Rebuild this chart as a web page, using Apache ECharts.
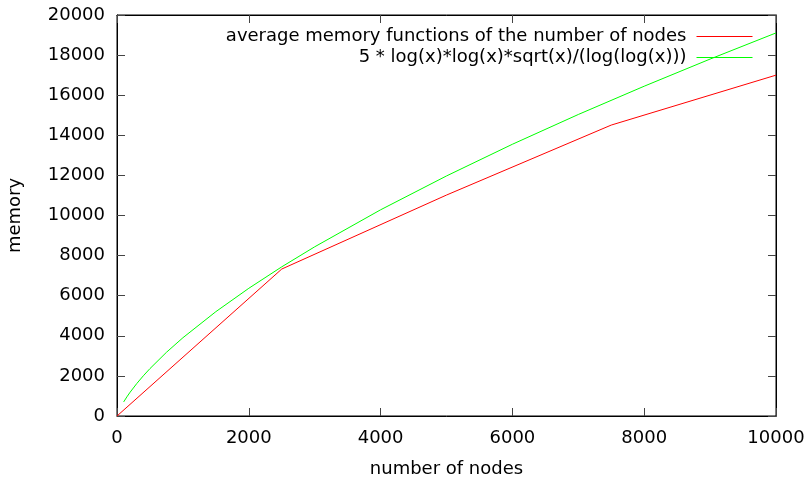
<!DOCTYPE html>
<html style="height: 100%">
<head>
<meta charset="utf-8">
<script src="https://cdn.jsdelivr.net/npm/echarts@6/dist/echarts.min.js"></script>
</head>
<body style="height: 100%; margin: 0">
<div id="container" style="width: 808px; height: 477px"></div>
<script type="text/javascript">
// average memory measured, by number of nodes
var avgNodes = [0, 2500, 5000, 7500, 10000];
var avgMemory = [0, 7330, 11020, 14510, 17000];
// fitted curve, values
var fitNodes = [101, 150, 200, 300, 400, 500, 750, 1000, 1500, 2000, 2500, 3000, 4000, 5000, 6000, 7000, 8000, 9000, 10000];
var fitMemory = [700, 954, 1190, 1618, 2006, 2363, 3176, 3903, 5204, 6369, 7440, 8439, 10284, 11973, 13553, 15038, 16448, 17802, 19106];
var seriesNames = ['average memory functions of the number of nodes', '5 * log(x)*log(x)*sqrt(x)/(log(log(x)))'];

function pairs(xs, ys) {
    var out = [];
    for (var i = 0; i < xs.length; i++) out.push([xs[i], ys[i]]);
    return out;
}

var font = 'DejaVu Sans';
var fs = 18;
var dom = document.getElementById('container');
var myChart = echarts.init(dom);

function ticks() {
    return { show: true, inside: true, length: 8, lineStyle: { color: '#444', width: 1 } };
}
function frameLine() {
    return { show: true, onZero: false, lineStyle: { color: '#000', width: 1 } };
}
function plain(v) { return String(v); }

var option = {
    animation: false,
    backgroundColor: '#fff',
    color: ['#ff0000', '#00ff00'],
    textStyle: { fontFamily: font },
    grid: {
        left: 117, right: 32, top: 15, bottom: 61,
        outerBoundsMode: 'none', containLabel: false,
        show: true, borderColor: '#000', borderWidth: 1
    },
    legend: {
        right: 55, top: 26, orient: 'vertical', align: 'right', padding: 0,
        itemWidth: 56, itemHeight: 10, itemGap: 0,
        itemStyle: { opacity: 0 },
        lineStyle: { width: 1 },
        textStyle: { fontFamily: font, fontSize: fs, lineHeight: 21, color: '#000', padding: [0, 5, 0, 0] },
        data: seriesNames
    },
    xAxis: [{
        type: 'value', min: 0, max: 10000, interval: 2000,
        name: 'number of nodes', nameLocation: 'middle', nameGap: 44,
        nameTextStyle: { fontFamily: font, fontSize: fs, color: '#000' },
        axisLine: frameLine(),
        axisTick: ticks(),
        axisLabel: { fontFamily: font, fontSize: fs, color: '#000', margin: 13, formatter: plain },
        splitLine: { show: false }
    }, {
        type: 'value', position: 'top', min: 0, max: 10000, interval: 2000,
        axisLine: frameLine(),
        axisTick: ticks(), axisLabel: { show: false }, splitLine: { show: false }
    }],
    yAxis: [{
        type: 'value', min: 0, max: 20000, interval: 2000,
        name: 'memory', nameLocation: 'middle', nameGap: 93, nameRotate: 90,
        nameTextStyle: { fontFamily: font, fontSize: fs, color: '#000' },
        axisLine: frameLine(),
        axisTick: ticks(),
        axisLabel: { fontFamily: font, fontSize: fs, color: '#000', margin: 12, formatter: plain },
        splitLine: { show: false }
    }, {
        type: 'value', position: 'right', min: 0, max: 20000, interval: 2000,
        axisLine: frameLine(),
        axisTick: ticks(), axisLabel: { show: false }, splitLine: { show: false }
    }],
    series: [{
        name: seriesNames[0], type: 'line', symbol: 'none',
        lineStyle: { color: '#ff0000', width: 1 }, itemStyle: { color: '#ff0000' },
        data: pairs(avgNodes, avgMemory)
    }, {
        name: seriesNames[1], type: 'line', symbol: 'none',
        lineStyle: { color: '#00ff00', width: 1 }, itemStyle: { color: '#00ff00' },
        data: pairs(fitNodes, fitMemory)
    }]
};
myChart.setOption(option, true);
</script>
</body>
</html>
